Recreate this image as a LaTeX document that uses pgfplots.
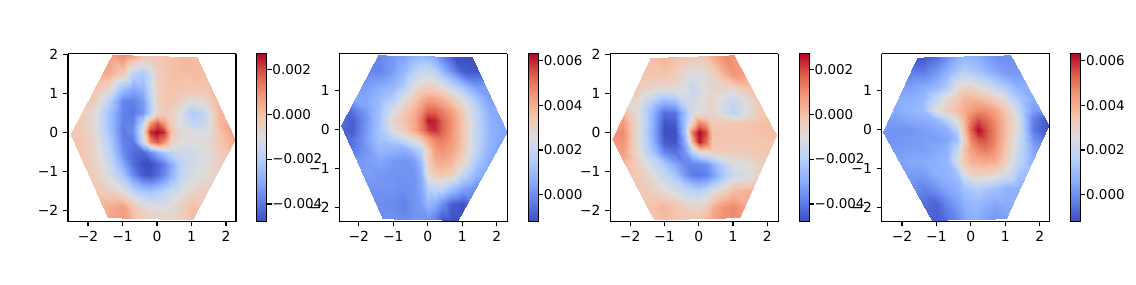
\documentclass[border=0pt]{standalone}
\usepackage{fontspec}
\setmainfont{DejaVu Sans}
\usepackage{pgfplots}
\pgfplotsset{compat=1.18}
\pgfplotsset{
 colormap={cw}{rgb255=(59,76,192) rgb255=(98,130,234) rgb255=(141,176,254) rgb255=(184,208,249) rgb255=(221,221,221) rgb255=(245,196,173) rgb255=(244,152,122) rgb255=(220,96,76) rgb255=(180,4,38)},
 hexax/.style={
  scale only axis,width=120.96pt,height=120.96pt,view={0}{90},anchor=south west,
  colormap name=cw,axis on top,clip=true,
  axis line style={line width=0.8pt},
  tick align=outside,xtick pos=bottom,ytick pos=left,ztick=\empty,
  major tick length=3.5pt,tick style={black,line width=0.8pt},
  tick label style={font=\fontsize{10}{12}\selectfont},
  xtick={-2,-1,0,1,2},xticklabels={−2,−1,0,1,2},
  colorbar,
 },
 cb/.style 2 args={colorbar style={width=7.2pt,height=120.96pt,at={(parent axis.south east)},anchor=south west,xshift=6.5pt,
   ytick={#1},yticklabels={#2},tick align=outside,ytick pos=right,yticklabel pos=right,major tick length=3.5pt,
   tick style={black,line width=0.8pt},axis line style={line width=0.8pt},tick label style={font=\fontsize{9.7}{12}\selectfont},yticklabel style={inner sep=0.3pt}}},
 surfst/.style={surf,shader=interp,mesh/cols=16,mesh/ordering=x varies},
}
\begin{document}
\begin{tikzpicture}
\path[use as bounding box] (0,0) rectangle (817.92pt,204.48pt);
% panel 1
\begin{axis}[hexax,at={(48.96pt,45pt)},xmin=-2.58,xmax=2.29,ymin=-2.28,ymax=2.02,point meta min=-4.78,point meta max=2.7,
 ytick={-2,-1,0,1,2},yticklabels={−2,−1,0,1,2},cb={-4,-2,0,2}{−0.004,−0.002,0.000,0.002}]
\clip (axis cs:-1.30,1.99,0) -- (axis cs:1.16,1.93,0) -- (axis cs:2.27,-0.18,0) -- (axis cs:1.03,-2.24,0) -- (axis cs:-1.43,-2.18,0) -- (axis cs:-2.51,-0.05,0) -- cycle;
\addplot3[surfst] table[row sep=\\]{x y z\\
-2.6 -2.4 0\\-2.2 -2.4 0\\-1.8 -2.4 0\\-1.4 -2.4 .5\\-1 -2.4 .8\\-.7 -2.4 .3\\-.4 -2.4 -.2\\-.2 -2.4 -.4\\0 -2.4 -.5\\.2 -2.4 -.5\\.4 -2.4 -.5\\.7 -2.4 -.3\\1 -2.4 0\\1.4 -2.4 0\\1.8 -2.4 0\\2.3 -2.4 0\\
-2.6 -1.9 0\\-2.2 -1.9 0\\-1.8 -1.9 0\\-1.4 -1.9 .4\\-1 -1.9 .7\\-.7 -1.9 -.2\\-.4 -1.9 -.7\\-.2 -1.9 -.9\\0 -1.9 -1\\.2 -1.9 -1\\.4 -1.9 -.9\\.7 -1.9 -.5\\1 -1.9 .1\\1.4 -1.9 -.2\\1.8 -1.9 -.2\\2.3 -1.9 -.2\\
-2.6 -1.5 -.2\\-2.2 -1.5 -.2\\-1.8 -1.5 -.2\\-1.4 -1.5 -.5\\-1 -1.5 -1\\-.7 -1.5 -1.8\\-.4 -1.5 -2.3\\-.2 -1.5 -2.4\\0 -1.5 -2.2\\.2 -1.5 -1.9\\.4 -1.5 -1.5\\.7 -1.5 -1.1\\1 -1.5 -.7\\1.4 -1.5 -.4\\1.8 -1.5 -.4\\2.3 -1.5 -.4\\
-2.6 -1.1 -.2\\-2.2 -1.1 -.2\\-1.8 -1.1 -.5\\-1.4 -1.1 -1.2\\-1 -1.1 -2.3\\-.7 -1.1 -3.7\\-.4 -1.1 -4.5\\-.2 -1.1 -4.6\\0 -1.1 -4.2\\.2 -1.1 -3.7\\.4 -1.1 -2.9\\.7 -1.1 -1.7\\1 -1.1 -1.2\\1.4 -1.1 -.9\\1.8 -1.1 -.5\\2.3 -1.1 -.5\\
-2.6 -.8 -.2\\-2.2 -.8 -.2\\-1.8 -.8 -.6\\-1.4 -.8 -1.5\\-1 -.8 -3.1\\-.7 -.8 -4.2\\-.4 -.8 -4.7\\-.2 -.8 -4.75\\0 -.8 -4.4\\.2 -.8 -3.9\\.4 -.8 -3\\.7 -.8 -1.8\\1 -.8 -1.4\\1.4 -.8 -1\\1.8 -.8 -.6\\2.3 -.8 0\\
-2.6 -.5 -.2\\-2.2 -.5 -.2\\-1.8 -.5 -.7\\-1.4 -.5 -1.8\\-1 -.5 -3.7\\-.7 -.5 -4.2\\-.4 -.5 -4.3\\-.2 -.5 -3.6\\0 -.5 -2.8\\.2 -.5 -2.2\\.4 -.5 -1.7\\.7 -.5 -1.5\\1 -.5 -1.4\\1.4 -.5 -1\\1.8 -.5 -.4\\2.3 -.5 .3\\
-2.6 -.25 -.2\\-2.2 -.25 -.1\\-1.8 -.25 -.8\\-1.4 -.25 -2\\-1 -.25 -3.8\\-.7 -.25 -4\\-.4 -.25 -1.5\\-.2 -.25 1\\0 -.25 1.8\\.2 -.25 1\\.4 -.25 -.6\\.7 -.25 -1\\1 -.25 -1\\1.4 -.25 -1\\1.8 -.25 -.2\\2.3 -.25 .5\\
-2.6 0 -.2\\-2.2 0 -.3\\-1.8 0 -.9\\-1.4 0 -2.3\\-1 0 -4\\-.7 0 -3.6\\-.4 0 -.9\\-.2 0 2.3\\0 0 2.7\\.2 0 2.3\\.4 0 0\\.7 0 -.9\\1 0 -1\\1.4 0 -1.2\\1.8 0 -.1\\2.3 0 .9\\
-2.6 .25 -.2\\-2.2 .25 -.3\\-1.8 .25 -1\\-1.4 .25 -2.4\\-1 .25 -3.9\\-.7 .25 -3.8\\-.4 .25 -1.8\\-.2 .25 .8\\0 .25 1.8\\.2 .25 .8\\.4 .25 -.5\\.7 .25 -1.2\\1 .25 -1.8\\1.4 .25 -1.5\\1.8 .25 .1\\2.3 .25 .5\\
-2.6 .5 -.3\\-2.2 .5 -.3\\-1.8 .5 -1\\-1.4 .5 -2.4\\-1 .5 -3.9\\-.7 .5 -4\\-.4 .5 -3.4\\-.2 .5 -2\\0 .5 -.7\\.2 .5 -.3\\.4 .5 -.5\\.7 .5 -1.1\\1 .5 -2.2\\1.4 .5 -1.6\\1.8 .5 .2\\2.3 .5 .2\\
-2.6 .8 0\\-2.2 .8 0\\-1.8 .8 -.5\\-1.4 .8 -1.9\\-1 .8 -3.8\\-.7 .8 -3.9\\-.4 .8 -3.3\\-.2 .8 -2\\0 .8 -.6\\.2 .8 -.2\\.4 .8 -.1\\.7 .8 -.5\\1 .8 -1\\1.4 .8 -.8\\1.8 .8 .2\\2.3 .8 .2\\
-2.6 1.1 -.1\\-2.2 1.1 -.1\\-1.8 1.1 -.1\\-1.4 1.1 -.8\\-1 1.1 -2.6\\-.7 1.1 -3.1\\-.4 1.1 -2.7\\-.2 1.1 -1.6\\0 1.1 -.5\\.2 1.1 -.2\\.4 1.1 -.1\\.7 1.1 -.1\\1 1.1 -.2\\1.4 1.1 -.1\\1.8 1.1 .1\\2.3 1.1 .1\\
-2.6 1.5 .4\\-2.2 1.5 .4\\-1.8 1.5 .4\\-1.4 1.5 .4\\-1 1.5 -.3\\-.7 1.5 -1.9\\-.4 1.5 -2.2\\-.2 1.5 -1.5\\0 1.5 -.5\\.2 1.5 -.2\\.4 1.5 0\\.7 1.5 0\\1 1.5 .1\\1.4 1.5 0\\1.8 1.5 0\\2.3 1.5 0\\
-2.6 2.02 .7\\-2.2 2.02 .7\\-1.8 2.02 .7\\-1.4 2.02 .7\\-1 2.02 1.2\\-.7 2.02 .8\\-.4 2.02 0\\-.2 2.02 -.3\\0 2.02 -.2\\.2 2.02 -.1\\.4 2.02 0\\.7 2.02 .2\\1 2.02 .1\\1.4 2.02 .1\\1.8 2.02 .1\\2.3 2.02 .1\\
};
\end{axis}
% panel 2
\begin{axis}[hexax,at={(244.4pt,45pt)},xmin=-2.56,xmax=2.31,ymin=-2.35,ymax=1.95,point meta min=-1.2,point meta max=6.32,
 ytick={-2,-1,0,1},yticklabels={−2,−1,0,1},cb={0,2,4,6}{0.000,0.002,0.004,0.006}]
\clip (axis cs:-1.44,1.91,0) -- (axis cs:1.29,1.86,0) -- (axis cs:2.30,-0.06,0) -- (axis cs:0.88,-2.32,0) -- (axis cs:-1.31,-2.28,0) -- (axis cs:-2.52,0.11,0) -- cycle;
\addplot3[surfst] table[row sep=\\]{x y z\\
-2.6 -2.4 -.1\\-2.2 -2.4 -.1\\-1.8 -2.4 -.1\\-1.4 -2.4 -.1\\-1 -2.4 .1\\-.7 -2.4 0\\-.4 -2.4 .2\\-.2 -2.4 .1\\0 -2.4 -.1\\.2 -2.4 -.5\\.4 -2.4 -1.2\\.7 -2.4 -1.2\\1 -2.4 -1.1\\1.4 -2.4 -.5\\1.8 -2.4 -.5\\2.3 -2.4 -.5\\
-2.6 -1.9 0\\-2.2 -1.9 0\\-1.8 -1.9 0\\-1.4 -1.9 0\\-1 -1.9 -.1\\-.7 -1.9 -.3\\-.4 -1.9 .1\\-.2 -1.9 .3\\0 -1.9 .9\\.2 -1.9 .6\\.4 -1.9 -.1\\.7 -1.9 -.9\\1 -1.9 -1.1\\1.4 -1.9 -.5\\1.8 -1.9 -.5\\2.3 -1.9 -.5\\
-2.6 -1.5 .1\\-2.2 -1.5 .1\\-1.8 -1.5 .1\\-1.4 -1.5 .1\\-1 -1.5 .1\\-.7 -1.5 0\\-.4 -1.5 .1\\-.2 -1.5 .5\\0 -1.5 1.7\\.2 -1.5 2\\.4 -1.5 1.9\\.7 -1.5 1.2\\1 -1.5 .5\\1.4 -1.5 0\\1.8 -1.5 0\\2.3 -1.5 0\\
-2.6 -1.1 .2\\-2.2 -1.1 .2\\-1.8 -1.1 .3\\-1.4 -1.1 .2\\-1 -1.1 .1\\-.7 -1.1 .1\\-.4 -1.1 .1\\-.2 -1.1 .7\\0 -1.1 2.8\\.2 -1.1 3.4\\.4 -1.1 3.5\\.7 -1.1 3.3\\1 -1.1 2.1\\1.4 -1.1 .9\\1.8 -1.1 .2\\2.3 -1.1 .2\\
-2.6 -.8 .1\\-2.2 -.8 .2\\-1.8 -.8 .3\\-1.4 -.8 .5\\-1 -.8 .2\\-.7 -.8 .1\\-.4 -.8 .3\\-.2 -.8 1.1\\0 -.8 3.2\\.2 -.8 4\\.4 -.8 4.1\\.7 -.8 3.8\\1 -.8 3.1\\1.4 -.8 1.4\\1.8 -.8 .5\\2.3 -.8 .1\\
-2.6 -.5 -.3\\-2.2 -.5 -.4\\-1.8 -.5 .2\\-1.4 -.5 .9\\-1 -.5 .8\\-.7 -.5 .7\\-.4 -.5 1.3\\-.2 -.5 1.8\\0 -.5 3.4\\.2 -.5 4.4\\.4 -.5 4.6\\.7 -.5 4.2\\1 -.5 3.4\\1.4 -.5 1.8\\1.8 -.5 .7\\2.3 -.5 .2\\
-2.6 -.25 -.8\\-2.2 -.25 -.6\\-1.8 -.25 .3\\-1.4 -.25 1.2\\-1 -.25 1.6\\-.7 -.25 2.2\\-.4 -.25 2.8\\-.2 -.25 3.4\\0 -.25 4.2\\.2 -.25 4.8\\.4 -.25 4.9\\.7 -.25 4.4\\1 -.25 3.5\\1.4 -.25 1.9\\1.8 -.25 .8\\2.3 -.25 .3\\
-2.6 0 -.8\\-2.2 0 -.9\\-1.8 0 .2\\-1.4 0 1.3\\-1 0 2.6\\-.7 0 3.3\\-.4 0 4\\-.2 0 4.8\\0 0 5.7\\.2 0 5.9\\.4 0 5.3\\.7 0 4.5\\1 0 3.5\\1.4 0 1.9\\1.8 0 .8\\2.3 0 .4\\
-2.6 .25 -.5\\-2.2 .25 -.9\\-1.8 .25 .1\\-1.4 .25 1.2\\-1 .25 2.9\\-.7 .25 3.5\\-.4 .25 4.1\\-.2 .25 5\\0 .25 6.1\\.2 .25 6\\.4 .25 5.3\\.7 .25 4.5\\1 .25 3.5\\1.4 .25 1.9\\1.8 .25 .7\\2.3 .25 .4\\
-2.6 .5 -.5\\-2.2 .5 -.5\\-1.8 .5 .3\\-1.4 .5 1.1\\-1 .5 2.4\\-.7 .5 3.3\\-.4 .5 3.9\\-.2 .5 4.5\\0 .5 5.2\\.2 .5 5.2\\.4 .5 4.8\\.7 .5 4.2\\1 .5 3.2\\1.4 .5 1.8\\1.8 .5 .6\\2.3 .5 .6\\
-2.6 .8 .5\\-2.2 .8 .5\\-1.8 .8 .5\\-1.4 .8 .9\\-1 .8 1.5\\-.7 .8 2.6\\-.4 .8 3.3\\-.2 .8 3.8\\0 .8 4.2\\.2 .8 4.1\\.4 .8 3.8\\.7 .8 3.2\\1 .8 2.5\\1.4 .8 1.2\\1.8 .8 .3\\2.3 .8 .3\\
-2.6 1.1 .3\\-2.2 1.1 .3\\-1.8 1.1 .3\\-1.4 1.1 .6\\-1 1.1 .9\\-.7 1.1 1.5\\-.4 1.1 2.6\\-.2 1.1 3\\0 1.1 3.1\\.2 1.1 3\\.4 1.1 2.7\\.7 1.1 2\\1 1.1 1.3\\1.4 1.1 .3\\1.8 1.1 .3\\2.3 1.1 .3\\
-2.6 1.5 -.2\\-2.2 1.5 -.2\\-1.8 1.5 -.2\\-1.4 1.5 -.2\\-1 1.5 .3\\-.7 1.5 .9\\-.4 1.5 1.6\\-.2 1.5 2\\0 1.5 2\\.2 1.5 1.7\\.4 1.5 .9\\.7 1.5 0\\1 1.5 -.9\\1.4 1.5 -1\\1.8 1.5 -1\\2.3 1.5 -1\\
-2.6 2 -.2\\-2.2 2 -.2\\-1.8 2 -.2\\-1.4 2 -.2\\-1 2 .1\\-.7 2 .2\\-.4 2 .5\\-.2 2 .6\\0 2 .5\\.2 2 .1\\.4 2 -.5\\.7 2 -1.2\\1 2 -1.2\\1.4 2 -1.1\\1.8 2 -1.1\\2.3 2 -1.1\\
};
\end{axis}
% panel 3
\begin{axis}[hexax,at={(439.4pt,45pt)},xmin=-2.58,xmax=2.32,ymin=-2.28,ymax=2.02,point meta min=-4.78,point meta max=2.7,
 ytick={-2,-1,0,1,2},yticklabels={−2,−1,0,1,2},cb={-4,-2,0,2}{−0.004,−0.002,0.000,0.002}]
\clip (axis cs:-1.41,1.91,0) -- (axis cs:1.03,1.98,0) -- (axis cs:2.27,-0.07,0) -- (axis cs:1.2,-2.18,0) -- (axis cs:-1.31,-2.24,0) -- (axis cs:-2.53,-0.18,0) -- cycle;
\addplot3[surfst] table[row sep=\\]{x y z\\
-2.6 -2.4 0\\-2.2 -2.4 0\\-1.8 -2.4 0\\-1.4 -2.4 -.1\\-1 -2.4 0\\-.7 -2.4 -.2\\-.4 -2.4 -.2\\-.2 -2.4 0\\0 -2.4 .2\\.2 -2.4 .5\\.4 -2.4 .7\\.7 -2.4 1\\1 -2.4 1\\1.4 -2.4 .5\\1.8 -2.4 0\\2.3 -2.4 0\\
-2.6 -1.9 -.1\\-2.2 -1.9 -.1\\-1.8 -1.9 -.1\\-1.4 -1.9 -.1\\-1 -1.9 .2\\-.7 -1.9 -.1\\-.4 -1.9 -.4\\-.2 -1.9 -.6\\0 -1.9 -.7\\.2 -1.9 -.3\\.4 -1.9 .3\\.7 -1.9 .9\\1 -1.9 1.1\\1.4 -1.9 .5\\1.8 -1.9 .5\\2.3 -1.9 .5\\
-2.6 -1.5 -.2\\-2.2 -1.5 -.2\\-1.8 -1.5 -.2\\-1.4 -1.5 -.5\\-1 -1.5 -.9\\-.7 -1.5 -1.25\\-.4 -1.5 -1.65\\-.2 -1.5 -1.8\\0 -1.5 -1.9\\.2 -1.5 -1.65\\.4 -1.5 -1.1\\.7 -1.5 -.5\\1 -1.5 .1\\1.4 -1.5 .3\\1.8 -1.5 .3\\2.3 -1.5 .3\\
-2.6 -1.1 0\\-2.2 -1.1 0\\-1.8 -1.1 -.3\\-1.4 -1.1 -.9\\-1 -1.1 -1.65\\-.7 -1.1 -2.3\\-.4 -1.1 -3.4\\-.2 -1.1 -3.9\\0 -1.1 -4\\.2 -1.1 -3.9\\.4 -1.1 -3.4\\.7 -1.1 -2.3\\1 -1.1 -1.5\\1.4 -1.1 -1.25\\1.8 -1.1 -.5\\2.3 -1.1 -.5\\
-2.6 -.8 .2\\-2.2 -.8 .2\\-1.8 -.8 -.5\\-1.4 -.8 -1.4\\-1 -.8 -2.2\\-.7 -.8 -3.1\\-.4 -.8 -3.7\\-.2 -.8 -3.8\\0 -.8 -3.7\\.2 -.8 -3.55\\.4 -.8 -2.9\\.7 -.8 -1.9\\1 -.8 -1.1\\1.4 -.8 -1\\1.8 -.8 -.6\\2.3 -.8 0\\
-2.6 -.5 .5\\-2.2 -.5 .7\\-1.8 -.5 -.8\\-1.4 -.5 -2.2\\-1 -.5 -3.8\\-.7 -.5 -4.1\\-.4 -.5 -3.4\\-.2 -.5 -2\\0 -.5 -1\\.2 -.5 -.8\\.4 -.5 -.5\\.7 -.5 -.4\\1 -.5 -.4\\1.4 -.5 -.3\\1.8 -.5 -.2\\2.3 -.5 -.1\\
-2.6 -.25 .8\\-2.2 -.25 .9\\-1.8 -.25 -.9\\-1.4 -.25 -2.6\\-1 -.25 -4.5\\-.7 -.25 -4.6\\-.4 -.25 -2.9\\-.2 -.25 .3\\0 -.25 2.5\\.2 -.25 1.6\\.4 -.25 -.1\\.7 -.25 -.2\\1 -.25 -.2\\1.4 -.25 -.2\\1.8 -.25 -.2\\2.3 -.25 -.1\\
-2.6 0 1\\-2.2 0 1\\-1.8 0 -.9\\-1.4 0 -2.7\\-1 0 -4.75\\-.7 0 -4.75\\-.4 0 -2.3\\-.2 0 1.3\\0 0 2.7\\.2 0 2\\.4 0 0\\.7 0 -.1\\1 0 -.1\\1.4 0 -.1\\1.8 0 0\\2.3 0 0\\
-2.6 .25 .5\\-2.2 .25 .8\\-1.8 .25 -.8\\-1.4 .25 -2.6\\-1 .25 -4.6\\-.7 .25 -4.5\\-.4 .25 -2.3\\-.2 .25 -.5\\0 .25 1.2\\.2 .25 .7\\.4 .25 -.3\\.7 .25 -.3\\1 .25 -.2\\1.4 .25 -.1\\1.8 .25 0\\2.3 .25 0\\
-2.6 .5 .2\\-2.2 .5 .2\\-1.8 .5 -.9\\-1.4 .5 -2.6\\-1 .5 -4.2\\-.7 .5 -4.1\\-.4 .5 -2.5\\-.2 .5 -1.25\\0 .5 -1\\.2 .5 -.8\\.4 .5 -.7\\.7 .5 -1.25\\1 .5 -1.8\\1.4 .5 -1\\1.8 .5 -.2\\2.3 .5 -.2\\
-2.6 .8 -.8\\-2.2 .8 -.8\\-1.8 .8 -.8\\-1.4 .8 -1.9\\-1 .8 -2.7\\-.7 .8 -2.5\\-.4 .8 -1.5\\-.2 .8 -1.4\\0 .8 -1.1\\.2 .8 -.8\\.4 .8 -.7\\.7 .8 -1.25\\1 .8 -1.65\\1.4 .8 -1\\1.8 .8 -.1\\2.3 .8 -.1\\
-2.6 1.1 -.3\\-2.2 1.1 -.3\\-1.8 1.1 -.3\\-1.4 1.1 -.7\\-1 1.1 -.9\\-.7 1.1 -.9\\-.4 1.1 -1.1\\-.2 1.1 -1.65\\0 1.1 -1.4\\.2 1.1 -.9\\.4 1.1 -.7\\.7 1.1 -.7\\1 1.1 -.7\\1.4 1.1 -.2\\1.8 1.1 -.2\\2.3 1.1 -.2\\
-2.6 1.5 -.1\\-2.2 1.5 -.1\\-1.8 1.5 -.1\\-1.4 1.5 -.1\\-1 1.5 -.1\\-.7 1.5 -.4\\-.4 1.5 -.9\\-.2 1.5 -1.1\\0 1.5 -1\\.2 1.5 -.9\\.4 1.5 -.6\\.7 1.5 .2\\1 1.5 .9\\1.4 1.5 .6\\1.8 1.5 .6\\2.3 1.5 .6\\
-2.6 2.02 0\\-2.2 2.02 0\\-1.8 2.02 0\\-1.4 2.02 0\\-1 2.02 .4\\-.7 2.02 .1\\-.4 2.02 0\\-.2 2.02 -.2\\0 2.02 -.2\\.2 2.02 0\\.4 2.02 .5\\.7 2.02 1.1\\1 2.02 .9\\1.4 2.02 .9\\1.8 2.02 .9\\2.3 2.02 .9\\
};
\end{axis}
% panel 4
\begin{axis}[hexax,at={(634.8pt,45pt)},xmin=-2.59,xmax=2.29,ymin=-2.35,ymax=1.95,point meta min=-1.2,point meta max=6.32,
 ytick={-2,-1,0,1},yticklabels={−2,−1,0,1},cb={0,2,4,6}{0.000,0.002,0.004,0.006}]
\clip (axis cs:-1.56,1.85,0) -- (axis cs:1.16,1.91,0) -- (axis cs:2.27,0.11,0) -- (axis cs:1.03,-2.28,0) -- (axis cs:-1.14,-2.32,0) -- (axis cs:-2.56,-0.06,0) -- cycle;
\addplot3[surfst] table[row sep=\\]{x y z\\
-2.6 -2.4 -.2\\-2.2 -2.4 -.2\\-1.8 -2.4 -.2\\-1.4 -2.4 -.8\\-1 -2.4 -.9\\-.7 -2.4 -.6\\-.4 -2.4 -.2\\-.2 -2.4 .3\\0 -2.4 .6\\.2 -2.4 .6\\.4 -2.4 .3\\.7 -2.4 .1\\1 -2.4 .2\\1.4 -2.4 .3\\1.8 -2.4 .3\\2.3 -2.4 .3\\
-2.6 -1.9 -.6\\-2.2 -1.9 -.6\\-1.8 -1.9 -.6\\-1.4 -1.9 -.6\\-1 -1.9 -.8\\-.7 -1.9 -.2\\-.4 -1.9 .3\\-.2 -1.9 .7\\0 -1.9 .9\\.2 -1.9 .9\\.4 -1.9 .7\\.7 -1.9 .5\\1 -1.9 .6\\1.4 -1.9 .6\\1.8 -1.9 .6\\2.3 -1.9 .6\\
-2.6 -1.5 .1\\-2.2 -1.5 .1\\-1.8 -1.5 .1\\-1.4 -1.5 -.2\\-1 -1.5 .1\\-.7 -1.5 .5\\-.4 -1.5 .7\\-.2 -1.5 1.2\\0 -1.5 1.4\\.2 -1.5 1.6\\.4 -1.5 1.4\\.7 -1.5 1.2\\1 -1.5 .8\\1.4 -1.5 .7\\1.8 -1.5 .7\\2.3 -1.5 .7\\
-2.6 -1.1 .3\\-2.2 -1.1 .3\\-1.8 -1.1 .3\\-1.4 -1.1 .3\\-1 -1.1 .7\\-.7 -1.1 .8\\-.4 -1.1 1.2\\-.2 -1.1 2.5\\0 -1.1 3.1\\.2 -1.1 3.2\\.4 -1.1 3.2\\.7 -1.1 3\\1 -1.1 2.5\\1.4 -1.1 1.3\\1.8 -1.1 .7\\2.3 -1.1 .7\\
-2.6 -.8 .3\\-2.2 -.8 .3\\-1.8 -.8 .5\\-1.4 -.8 .6\\-1 -.8 .7\\-.7 -.8 .9\\-.4 -.8 2.4\\-.2 -.8 3.4\\0 -.8 3.9\\.2 -.8 4\\.4 -.8 4.1\\.7 -.8 4\\1 -.8 3.2\\1.4 -.8 1.8\\1.8 -.8 .6\\2.3 -.8 .1\\
-2.6 -.5 .3\\-2.2 -.5 .2\\-1.8 -.5 .3\\-1.4 -.5 .3\\-1 -.5 .5\\-.7 -.5 .7\\-.4 -.5 1.9\\-.2 -.5 3.6\\0 -.5 4.4\\.2 -.5 4.8\\.4 -.5 5\\.7 -.5 4.5\\1 -.5 3.4\\1.4 -.5 2\\1.8 -.5 .5\\2.3 -.5 -.2\\
-2.6 -.25 .2\\-2.2 -.25 .1\\-1.8 -.25 .2\\-1.4 -.25 .3\\-1 -.25 .3\\-.7 -.25 .5\\-.4 -.25 1.1\\-.2 -.25 3.2\\0 -.25 4.8\\.2 -.25 5.5\\.4 -.25 5.5\\.7 -.25 4.7\\1 -.25 3.6\\1.4 -.25 2.1\\1.8 -.25 .1\\2.3 -.25 -.8\\
-2.6 0 .2\\-2.2 0 .1\\-1.8 0 .1\\-1.4 0 .3\\-1 0 .5\\-.7 0 .7\\-.4 0 1.7\\-.2 0 3.6\\0 0 5.4\\.2 0 6.3\\.4 0 5.7\\.7 0 4.8\\1 0 3.7\\1.4 0 2.3\\1.8 0 -.4\\2.3 0 -1.2\\
-2.6 .25 .3\\-2.2 .25 .3\\-1.8 .25 .5\\-1.4 .25 .6\\-1 .25 .9\\-.7 .25 1.7\\-.4 .25 2.7\\-.2 .25 3.8\\0 .25 5\\.2 .25 5.6\\.4 .25 5.3\\.7 .25 4.6\\1 .25 3.7\\1.4 .25 2.3\\1.8 .25 -.3\\2.3 .25 -1.2\\
-2.6 .5 .6\\-2.2 .5 .6\\-1.8 .5 .8\\-1.4 .5 1.1\\-1 .5 2.6\\-.7 .5 3.2\\-.4 .5 3.7\\-.2 .5 4\\0 .5 4.3\\.2 .5 4.6\\.4 .5 4.6\\.7 .5 4.2\\1 .5 3.4\\1.4 .5 1.9\\1.8 .5 .3\\2.3 .5 .3\\
-2.6 .8 .6\\-2.2 .8 .6\\-1.8 .8 .6\\-1.4 .8 .9\\-1 .8 1.8\\-.7 .8 2.8\\-.4 .8 3.4\\-.2 .8 3.8\\0 .8 3.8\\.2 .8 3.7\\.4 .8 3.5\\.7 .8 3.1\\1 .8 2.5\\1.4 .8 1.3\\1.8 .8 .6\\2.3 .8 .6\\
-2.6 1.1 .3\\-2.2 1.1 .3\\-1.8 1.1 .3\\-1.4 1.1 .6\\-1 1.1 .9\\-.7 1.1 1.5\\-.4 1.1 2.7\\-.2 1.1 3\\0 1.1 2.9\\.2 1.1 2.6\\.4 1.1 2.4\\.7 1.1 1.9\\1 1.1 1.4\\1.4 1.1 .7\\1.8 1.1 .7\\2.3 1.1 .7\\
-2.6 1.5 -.4\\-2.2 1.5 -.4\\-1.8 1.5 -.4\\-1.4 1.5 -.4\\-1 1.5 .1\\-.7 1.5 .7\\-.4 1.5 1.3\\-.2 1.5 1.6\\0 1.5 1.4\\.2 1.5 1.2\\.4 1.5 .9\\.7 1.5 .5\\1 1.5 .2\\1.4 1.5 .2\\1.8 1.5 .2\\2.3 1.5 .2\\
-2.6 2 -1.2\\-2.2 2 -1.2\\-1.8 2 -1.2\\-1.4 2 -1.2\\-1 2 -.9\\-.7 2 -.2\\-.4 2 .3\\-.2 2 .6\\0 2 .6\\.2 2 .5\\.4 2 .2\\.7 2 0\\1 2 0\\1.4 2 .1\\1.8 2 .1\\2.3 2 .1\\
};
\end{axis}
\end{tikzpicture}
\end{document}
